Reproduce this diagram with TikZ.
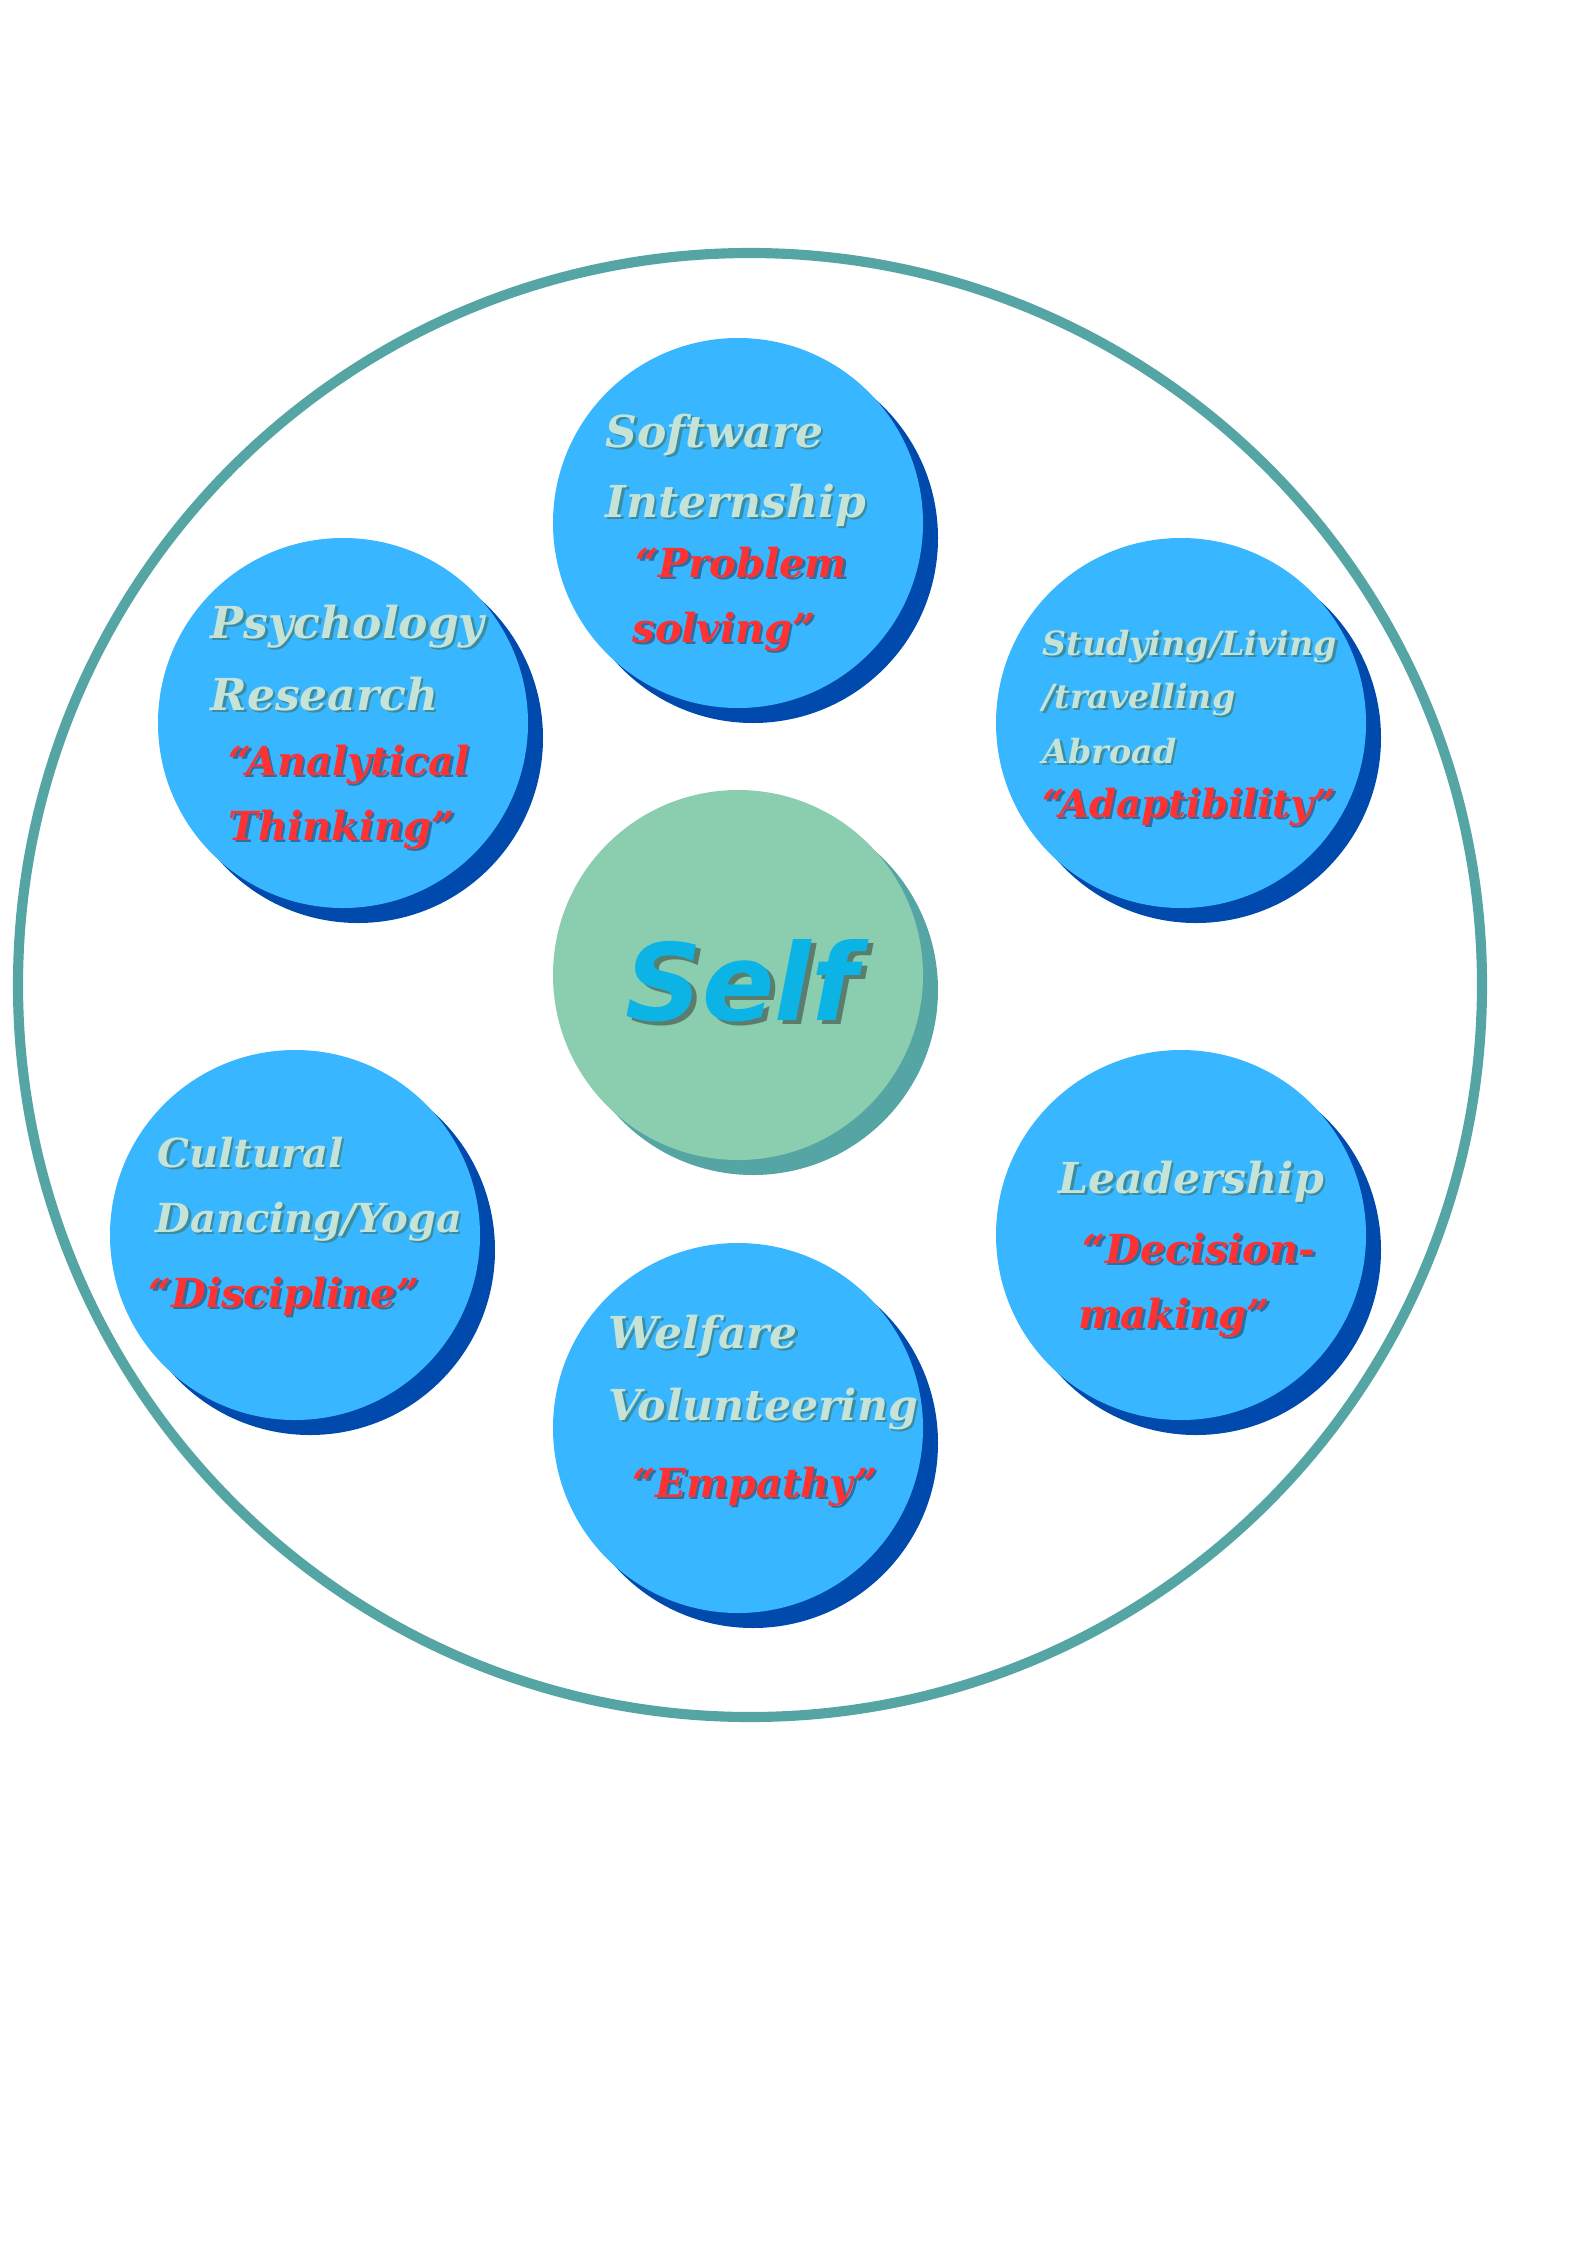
\documentclass[tikz,border=0pt]{standalone}
\usepackage{fontspec}
\newfontfamily\tfont{DejaVu Serif}
\newfontfamily\selffont{DejaVu Sans}
\definecolor{ring}{HTML}{55A5A5}
\definecolor{bubble}{HTML}{38B6FF}
\definecolor{bubbleshade}{HTML}{004AAD}
\definecolor{selffill}{HTML}{8BCDAF}
\definecolor{selfshade}{HTML}{55A5A5}
\definecolor{selftext}{HTML}{0BB4E4}
\definecolor{selftextshade}{HTML}{5A7D6E}
\definecolor{lighttext}{HTML}{C5E3D7}
\definecolor{lightshade}{HTML}{3C8CA0}
\definecolor{redtext}{HTML}{FF3131}
\definecolor{redshade}{HTML}{2F6FA0}
\tikzset{
  bubblebox/.style={circle, fill=bubble, minimum size=138.75pt, inner sep=0pt},
  bubbleback/.style={circle, fill=bubbleshade, minimum size=138.75pt, inner sep=0pt},
  txt/.style={anchor=base west, inner sep=0pt, font=\tfont\bfseries\itshape\fontsize{#1}{#1}\selectfont},
}
% \ltx{name}{x}{y}{size}{text}: light text with shadow
\newcommand\ltx[5]{%
  \node[txt=#4, text=lightshade] (#1s) at (#2+2.5,#3+2.5) {#5};
  \node[txt=#4, text=lighttext] (#1) at (#2,#3) {#5};}
\newcommand\rtx[5]{%
  \node[txt=#4, text=redshade] (#1s) at (#2+2.5,#3+2.5) {#5};
  \node[txt=#4, text=redtext] (#1) at (#2,#3) {#5};}
\begin{document}
\begin{tikzpicture}[x=0.375pt, y=-0.375pt]
\useasboundingbox (0,0) rectangle (1587,2245);
\fill[white] (0,0) rectangle (1587,2245);
% outer ring
\coordinate (outer) at (750,985);
\draw[ring, line width=3.8pt] (outer) circle (732);
% bubbles with their shadows
\foreach \n/\cx/\cy in {soft/738/523, psy/343/723, stud/1181/723, cult/295/1235, lead/1181/1235, welf/738/1428}{
  \node[bubbleback] (\n back) at (\cx+15,\cy+15) {};
  \node[bubblebox] (\n) at (\cx,\cy) {};
}
\node[circle, fill=selfshade, minimum size=138.75pt, inner sep=0pt] (selfback) at (753,990) {};
\node[circle, fill=selffill, minimum size=138.75pt, inner sep=0pt] (self) at (738,975) {};
% Self text
\node[anchor=base west, inner sep=0pt, text=selftextshade, font=\selffont\bfseries\itshape\fontsize{40}{40}\selectfont] (selftxts) at (630,1024) {Self};
\node[anchor=base west, inner sep=0pt, text=selftext, font=\selffont\bfseries\itshape\fontsize{40}{40}\selectfont] (selftxt) at (625,1020) {Self};
% Software Internship
\ltx{t1a}{605}{447}{16.5}{Software}
\ltx{t1b}{605}{517}{16.5}{Internship}
\rtx{t1c}{635}{577}{15}{“Problem}
\rtx{t1d}{632}{642}{15}{solving”}
% Psychology
\ltx{t2a}{210}{638}{16.5}{Psychology}
\ltx{t2b}{210}{710}{16.5}{Research}
\rtx{t2c}{228}{775}{15}{“Analytical}
\rtx{t2d}{228}{840}{15}{Thinking”}
% Studying
\ltx{t3a}{1042}{655}{12.5}{Studying/Living}
\ltx{t3b}{1042}{708}{12.5}{/travelling}
\ltx{t3c}{1042}{763}{12.5}{Abroad}
\rtx{t3d}{1042}{817}{14.5}{“Adaptibility”}
% Cultural
\ltx{t4a}{157}{1167}{15}{Cultural}
\ltx{t4b}{155}{1232}{15}{Dancing/Yoga}
\rtx{t4c}{148}{1307}{15}{“Discipline”}
% Leadership
\ltx{t5a}{1058}{1193}{16}{Leadership}
\rtx{t5b}{1082}{1263}{15}{“Decision-}
\rtx{t5c}{1078}{1328}{15}{making”}
% Welfare
\ltx{t6a}{608}{1348}{16.5}{Welfare}
\ltx{t6b}{608}{1420}{16}{Volunteering}
\rtx{t6c}{632}{1497}{15}{“Empathy”}
\end{tikzpicture}
\end{document}
